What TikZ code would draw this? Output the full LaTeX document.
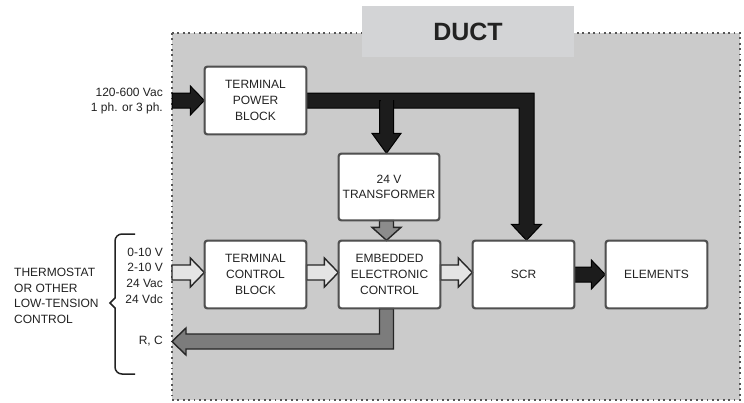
\documentclass[tikz,border=0pt]{standalone}
\usepackage{fontspec}
\setmainfont{Liberation Sans}
\usetikzlibrary{calc}
\definecolor{regionfill}{HTML}{CBCBCB}
\definecolor{tabfill}{HTML}{D3D4D6}
\definecolor{boxline}{HTML}{505050}
\definecolor{dotcol}{HTML}{555555}
\definecolor{blkfill}{HTML}{1C1C1C}
\definecolor{litefill}{HTML}{E4E4E4}
\definecolor{midfill}{HTML}{8C8C8C}
\definecolor{rcfill}{HTML}{7C7C7C}
\definecolor{txtcol}{HTML}{222222}
\newcommand\rarr[4]{%
  \draw[#1] let \p1=(#2), \p2=(#3) in
    (\x1,\y2+7.5pt) -- (\x2-#4,\y2+7.5pt) -- (\x2-#4,\y2+14.5pt) -- (\x2,\y2)
    -- (\x2-#4,\y2-14.5pt) -- (\x2-#4,\y2-7.5pt) -- (\x1,\y2-7.5pt) -- cycle;}
\newcommand\darr[4]{%
  \draw[#1] let \p1=(#2), \p2=(#3) in
    (\x2-7pt,\y1) -- (\x2-7pt,\y2+#4) -- (\x2-14.5pt,\y2+#4) -- (\x2,\y2)
    -- (\x2+14.5pt,\y2+#4) -- (\x2+7pt,\y2+#4) -- (\x2+7pt,\y1) -- cycle;}
\begin{document}
\begin{tikzpicture}[x=1pt,y=-1pt,
  txt/.style={font=\fontsize{12}{15.6}\selectfont, text=txtcol, inner sep=0pt},
  blockbox/.style={draw=boxline, line width=1.3pt, fill=white, rounded corners=2.5pt,
    minimum width=101pt, minimum height=67pt, inner sep=0pt, align=center,
    font=\fontsize{12}{15.6}\selectfont, text=txtcol},
  blk/.style={fill=blkfill, draw=black, line width=1pt, line join=miter},
  lite/.style={fill=litefill, draw=black!85, line width=1.4pt, line join=miter},
  mid/.style={fill=midfill, draw=black!85, line width=1.4pt, line join=miter},
  rcs/.style={fill=rcfill, draw=black!85, line width=1.4pt, line join=miter}]
\useasboundingbox (0,0) rectangle (744,402);
\fill[white] (0,0) rectangle (744,402);
% duct region
\fill[regionfill] (172,33) rectangle (740,400);
\draw[dotcol, line width=1.8pt, dash pattern=on 1.8pt off 3.6pt]
  (172,33) -- (740,33) -- (740,400) -- (172,400) -- cycle;
\fill[tabfill] (362,6) rectangle (574,57);
\node[font=\bfseries\fontsize{25}{28}\selectfont, text=txtcol] (duct) at (468,32) {DUCT};
% blocks
\node[blockbox] (tpb) at (255.5,100.5) {TERMINAL\\POWER\\BLOCK};
\node[blockbox, minimum width=100pt, minimum height=66pt] (trf) at (389,187) {24 V\\TRANSFORMER};
\node[blockbox] (tcb) at (255.5,274.5) {TERMINAL\\CONTROL\\BLOCK};
\node[blockbox] (eec) at (389.5,274.5) {EMBEDDED\\ELECTRONIC\\CONTROL};
\node[blockbox] (scr) at (523.5,274.5) {SCR};
\node[blockbox] (elm) at (656.5,274.5) {ELEMENTS};
% connector end points
\coordinate (pwrin) at (172,100.5);
\coordinate (ctlin) at (172,272.5);
\coordinate (rctip) at (172,341.5);
\coordinate (trftip) at ($(trf.north)+(-2.5,0)$);
\coordinate (eectip) at ($(eec.north)+(-3,0)$);
\coordinate (trfout) at ($(trf.south)+(-3,0)$);
\coordinate (eecout) at ($(eec.south)+(-3,0)$);
\coordinate (scrtip) at ($(scr.north)+(3,0)$);
\coordinate (tcbin) at ($(tcb.west)+(0,-2)$);
\coordinate (eecin) at ($(eec.west)+(0,-2)$);
\coordinate (scrin) at ($(scr.west)+(0,-2)$);
% power arrows
\rarr{blk}{pwrin}{tpb.west}{14pt}
\draw[blk] let \p1=(tpb.east), \p2=(scrtip) in
  (\x1,\y1+7.5pt) -- (\x2+7.5pt,\y1+7.5pt) -- (\x2+7.5pt,\y2+16pt) -- (\x2+15pt,\y2+16pt)
  -- (\x2,\y2) -- (\x2-15pt,\y2+16pt) -- (\x2-7.5pt,\y2+16pt) -- (\x2-7.5pt,\y1-7.5pt)
  -- (\x1,\y1-7.5pt) -- cycle;
\darr{blk}{tpb.east}{trftip}{20pt}
\fill[blkfill] let \p1=(tpb.east), \p2=(trftip) in (\x2-6pt,\y1+6.5pt) rectangle (\x2+6pt,\y1-8pt);
\rarr{blk}{scr.east}{elm.west}{14pt}
% control arrows
\rarr{lite}{ctlin}{tcbin}{14pt}
\rarr{lite}{tcb.east}{eecin}{14pt}
\rarr{lite}{eec.east}{scrin}{14pt}
\darr{mid}{trfout}{eectip}{13pt}
\draw[rcs] let \p1=(eecout), \p2=(rctip) in
  (\x1+7pt,\y1) -- (\x1+7pt,\y2-7.5pt) -- (\x2+14pt,\y2-7.5pt) -- (\x2+14pt,\y2-13.5pt)
  -- (\x2,\y2) -- (\x2+14pt,\y2+13.5pt) -- (\x2+14pt,\y2+7.5pt) -- (\x1-7pt,\y2+7.5pt)
  -- (\x1-7pt,\y1) -- cycle;
% redraw box outlines on top
\foreach \n in {tpb,trf,tcb,eec,scr,elm}{
  \draw[boxline, line width=1.3pt, rounded corners=2.5pt] (\n.north west) rectangle (\n.south east);}
% outside labels
\node[txt, align=right, anchor=east] (pwrlbl) at (163,101) {120-600 Vac\\1 ph. or 3 ph.};
\node[txt, align=right, anchor=east] (sigs) at (163,275.5) {0-10 V\\2-10 V\\24 Vac\\24 Vdc};
\node[txt, anchor=east] (rclbl) at (163,341.5) {R, C};
\node[txt, align=left, anchor=west] (thermo) at (14,296) {THERMOSTAT\\OR OTHER\\LOW-TENSION\\CONTROL};
\draw[txtcol, line width=1.5pt] (135,234) -- (122,234) to[out=180,in=90] (115,241)
  -- (115,298) -- (110,303) -- (115,308) -- (115,367) to[out=-90,in=180] (122,374) -- (135,374);
\end{tikzpicture}
\end{document}
